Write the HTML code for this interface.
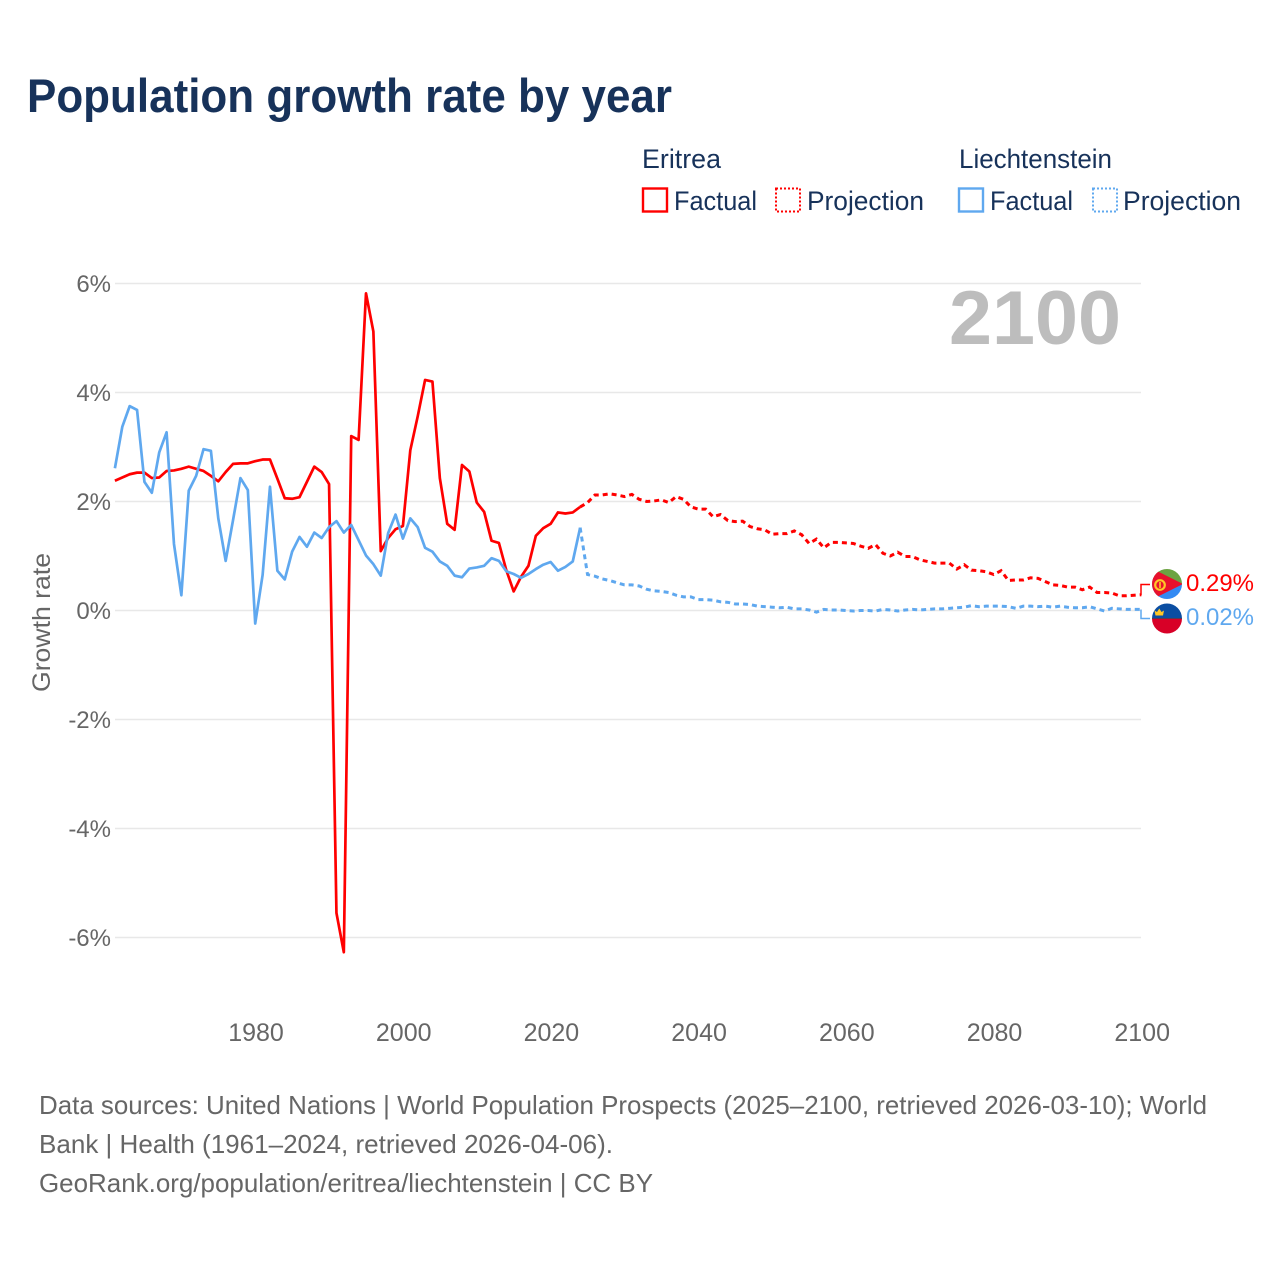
<!DOCTYPE html>
<html lang="en">
<head>
<meta charset="utf-8">
<title>Population growth rate by year</title>
<style>
html,body{margin:0;padding:0;background:#fff;}
svg{display:block;font-family:"Liberation Sans",sans-serif;}
</style>
</head>
<body>
<svg id="chart" xmlns="http://www.w3.org/2000/svg" width="1280" height="1280" viewBox="0 0 1280 1280">
  <rect x="0" y="0" width="1280" height="1280" fill="#ffffff"/>
  <text x="27" y="112" font-size="47" font-weight="bold" fill="#17325a" textLength="645" lengthAdjust="spacingAndGlyphs">Population growth rate by year</text>

  <g font-size="27" fill="#17325a">
    <text x="642" y="168" textLength="79" lengthAdjust="spacingAndGlyphs">Eritrea</text>
    <text x="959" y="168" textLength="153" lengthAdjust="spacingAndGlyphs">Liechtenstein</text>
    <g>
      <rect x="643" y="188.5" width="24" height="23" fill="none" stroke="#ff0000" stroke-width="2.4"/>
      <text x="674" y="210" textLength="83" lengthAdjust="spacingAndGlyphs">Factual</text>
    </g>
    <g>
      <rect x="776" y="188.5" width="24" height="23" fill="none" stroke="#ff0000" stroke-width="2" stroke-dasharray="2 2"/>
      <text x="807" y="210" textLength="117" lengthAdjust="spacingAndGlyphs">Projection</text>
    </g>
    <g>
      <rect x="959" y="188.5" width="24" height="23" fill="none" stroke="#5fa8ef" stroke-width="2.4"/>
      <text x="990" y="210" textLength="83" lengthAdjust="spacingAndGlyphs">Factual</text>
    </g>
    <g>
      <rect x="1093" y="188.5" width="24" height="23" fill="none" stroke="#5fa8ef" stroke-width="2" stroke-dasharray="2 2"/>
      <text x="1123" y="210" textLength="118" lengthAdjust="spacingAndGlyphs">Projection</text>
    </g>
  </g>

  <g id="grid"></g>
  <g id="yticks"></g>
  <g id="xticks"></g>
  <text transform="translate(50,622.5) rotate(-90)" text-anchor="middle" font-size="25" fill="#666666" textLength="139" lengthAdjust="spacingAndGlyphs">Growth rate</text>
  <text x="949" y="344" font-size="76" font-weight="bold" fill="#bdbdbd" textLength="172" lengthAdjust="spacingAndGlyphs">2100</text>

  <g id="series"></g>

  <path d="M1141 595 L1141 584.5 L1150 584.5" fill="none" stroke="#ff0000" stroke-width="1.5"/>
  <path d="M1141 609.5 L1141 618.5 L1150 618.5" fill="none" stroke="#5fa8ef" stroke-width="1.5"/>

  <defs>
    <clipPath id="clip-er"><circle cx="1167" cy="584" r="15"/></clipPath>
    <clipPath id="clip-li"><circle cx="1167" cy="618.5" r="15"/></clipPath>
  </defs>
  <g clip-path="url(#clip-er)">
    <rect x="1152" y="569" width="30" height="15" fill="#6ca342"/>
    <rect x="1152" y="584" width="30" height="15" fill="#338af3"/>
    <polygon points="1151,568 1151,600 1183,584" fill="#e8112d"/>
    <circle cx="1160" cy="585" r="4.8" fill="none" stroke="#ffc726" stroke-width="2.2"/>
    <rect x="1159.2" y="582" width="1.6" height="6" fill="#ffc726"/>
  </g>
  <g clip-path="url(#clip-li)">
    <rect x="1152" y="603.5" width="30" height="15" fill="#0b4ea2"/>
    <rect x="1152" y="618.5" width="30" height="15" fill="#d80027"/>
    <rect x="1152" y="618" width="30" height="1" fill="#5a3a50"/>
    <path d="M1155.5 615.5 L1154.5 610.5 L1157 612 L1159.3 608.5 L1161.5 612 L1164 610.5 L1163 615.5 Z" fill="#ffc726"/>
  </g>
  <text x="1186" y="591" font-size="24" fill="#ff0000" textLength="68" lengthAdjust="spacingAndGlyphs">0.29%</text>
  <text x="1186" y="625" font-size="24" fill="#5fa8ef" textLength="68" lengthAdjust="spacingAndGlyphs">0.02%</text>

  <g font-size="26" fill="#666666">
    <text x="39" y="1114" textLength="1168" lengthAdjust="spacingAndGlyphs">Data sources: United Nations | World Population Prospects (2025–2100, retrieved 2026-03-10); World</text>
    <text x="39" y="1153" textLength="574" lengthAdjust="spacingAndGlyphs">Bank | Health (1961–2024, retrieved 2026-04-06).</text>
    <text x="39" y="1192" textLength="614" lengthAdjust="spacingAndGlyphs">GeoRank.org/population/eritrea/liechtenstein | CC BY</text>
  </g>
</svg>

<script>
const xTickYears = [1980, 2000, 2020, 2040, 2060, 2080, 2100];
const yTickValues = [6, 4, 2, 0, -2, -4, -6];
const factualStartYear = 1961;
const projectionStartYear = 2024;

const eritreaFactual = [
  2.38,2.44,2.50,2.53,2.53,2.43,2.44,2.56,2.57,2.60,
  2.64,2.60,2.56,2.47,2.37,2.54,2.69,2.70,2.70,2.74,
  2.77,2.77,2.42,2.06,2.05,2.08,2.36,2.64,2.54,2.32,
  -5.55,-6.27,3.20,3.13,5.82,5.12,1.09,1.33,1.49,1.55,
  2.94,3.56,4.23,4.20,2.43,1.59,1.48,2.67,2.55,1.98,
  1.81,1.28,1.24,0.74,0.35,0.62,0.82,1.37,1.51,1.59,
  1.80,1.78,1.80,1.90
];
const liechtensteinFactual = [
  2.61,3.37,3.75,3.68,2.36,2.16,2.90,3.27,1.22,0.28,
  2.20,2.47,2.96,2.93,1.69,0.91,1.66,2.43,2.21,-0.24,
  0.65,2.27,0.73,0.57,1.08,1.35,1.17,1.43,1.33,1.53,
  1.64,1.43,1.57,1.29,1.01,0.85,0.64,1.42,1.76,1.32,
  1.69,1.53,1.15,1.08,0.90,0.82,0.64,0.61,0.77,0.79,
  0.82,0.96,0.91,0.72,0.67,0.60,0.67,0.76,0.84,0.89,
  0.73,0.80,0.90,1.52
];
const eritreaProjection = [
  1.90,1.98,2.12,2.12,2.14,2.12,2.09,2.13,2.04,2.00,2.01,
  2.03,1.98,2.09,2.04,1.90,1.86,1.86,1.72,1.76,1.65,
  1.63,1.64,1.54,1.50,1.48,1.40,1.41,1.41,1.46,1.39,
  1.23,1.31,1.15,1.25,1.25,1.24,1.23,1.18,1.14,1.21,
  1.05,1.00,1.07,0.99,0.99,0.93,0.90,0.87,0.87,0.87,
  0.76,0.84,0.74,0.73,0.71,0.66,0.73,0.55,0.56,0.56,
  0.60,0.59,0.53,0.47,0.46,0.43,0.43,0.38,0.43,0.33,
  0.33,0.32,0.27,0.27,0.28,0.29
];
const liechtensteinProjection = [
  1.52,0.66,0.63,0.58,0.55,0.51,0.47,0.47,0.45,0.39,0.36,
  0.35,0.33,0.28,0.25,0.25,0.20,0.20,0.19,0.16,0.15,
  0.12,0.12,0.11,0.08,0.07,0.06,0.05,0.06,0.03,0.03,
  0.01,-0.03,0.02,0.01,0.01,0.00,-0.01,0.00,0.00,-0.01,
  0.02,0.01,-0.01,0.01,0.02,0.01,0.02,0.03,0.03,0.04,
  0.05,0.06,0.09,0.07,0.08,0.08,0.08,0.07,0.04,0.08,
  0.08,0.07,0.08,0.06,0.08,0.06,0.05,0.05,0.07,0.03,
  -0.01,0.04,0.03,0.02,0.02,0.02
];

const SVG_NS = 'http://www.w3.org/2000/svg';
const RED = '#ff0000';
const BLUE = '#5fa8ef';
const X_LEFT = 114.9, X_RIGHT = 1141.4, X_MIN = 1961, X_MAX = 2100;
const Y_ZERO = 610.5, Y_PER_UNIT = 54.5;
const GRID_LEFT = 115, GRID_END = 1141;
const TICK_LABEL_CENTER_SHIFT = 0.8;

function xScale(year) {
  return X_LEFT + (year - X_MIN) * (X_RIGHT - X_LEFT) / (X_MAX - X_MIN);
}
function yScale(value) {
  return Y_ZERO - value * Y_PER_UNIT;
}
function linePath(startYear, values) {
  return values.map(function (v, i) {
    return (i ? 'L' : 'M') + xScale(startYear + i).toFixed(2) + ' ' + yScale(v).toFixed(2);
  }).join(' ');
}

const gridGroup = document.getElementById('grid');
const yGroup = document.getElementById('yticks');
const xGroup = document.getElementById('xticks');
const seriesGroup = document.getElementById('series');

yTickValues.forEach(function (v) {
  const line = document.createElementNS(SVG_NS, 'line');
  
  
  line.setAttribute('x1', GRID_LEFT);
  line.setAttribute('x2', GRID_END);
  line.setAttribute('y1', yScale(v));
  line.setAttribute('y2', yScale(v));
  line.setAttribute('stroke', '#e8e8e8');
  line.setAttribute('stroke-width', '1.5');
  gridGroup.appendChild(line);

  const label = document.createElementNS(SVG_NS, 'text');
  
  
  label.setAttribute('x', 111);
  label.setAttribute('y', yScale(v) + 8.5);
  label.setAttribute('text-anchor', 'end');
  label.setAttribute('font-size', '24');
  label.setAttribute('fill', '#666666');
  label.textContent = v + '%';
  yGroup.appendChild(label);
});

xTickYears.forEach(function (year) {
  const label = document.createElementNS(SVG_NS, 'text');
  
  
  label.setAttribute('x', xScale(year) + TICK_LABEL_CENTER_SHIFT);
  label.setAttribute('y', 1041);
  label.setAttribute('text-anchor', 'middle');
  label.setAttribute('font-size', '25');
  label.setAttribute('fill', '#666666');
  label.textContent = year;
  xGroup.appendChild(label);
});

const eritreaFactualLine = document.createElementNS(SVG_NS, 'path');


eritreaFactualLine.setAttribute('d', linePath(factualStartYear, eritreaFactual));
eritreaFactualLine.setAttribute('fill', 'none');
eritreaFactualLine.setAttribute('stroke', RED);
eritreaFactualLine.setAttribute('stroke-width', '2.7');
eritreaFactualLine.setAttribute('stroke-linejoin', 'round');
seriesGroup.appendChild(eritreaFactualLine);

const eritreaProjectionLine = document.createElementNS(SVG_NS, 'path');


eritreaProjectionLine.setAttribute('d', linePath(projectionStartYear, eritreaProjection));
eritreaProjectionLine.setAttribute('fill', 'none');
eritreaProjectionLine.setAttribute('stroke', RED);
eritreaProjectionLine.setAttribute('stroke-width', '3');
eritreaProjectionLine.setAttribute('stroke-dasharray', '5 4');
seriesGroup.appendChild(eritreaProjectionLine);

const liechtensteinFactualLine = document.createElementNS(SVG_NS, 'path');


liechtensteinFactualLine.setAttribute('d', linePath(factualStartYear, liechtensteinFactual));
liechtensteinFactualLine.setAttribute('fill', 'none');
liechtensteinFactualLine.setAttribute('stroke', BLUE);
liechtensteinFactualLine.setAttribute('stroke-width', '2.7');
liechtensteinFactualLine.setAttribute('stroke-linejoin', 'round');
seriesGroup.appendChild(liechtensteinFactualLine);

const liechtensteinProjectionLine = document.createElementNS(SVG_NS, 'path');


liechtensteinProjectionLine.setAttribute('d', linePath(projectionStartYear, liechtensteinProjection));
liechtensteinProjectionLine.setAttribute('fill', 'none');
liechtensteinProjectionLine.setAttribute('stroke', BLUE);
liechtensteinProjectionLine.setAttribute('stroke-width', '3');
liechtensteinProjectionLine.setAttribute('stroke-dasharray', '5 4');
seriesGroup.appendChild(liechtensteinProjectionLine);
</script>
</body>
</html>
